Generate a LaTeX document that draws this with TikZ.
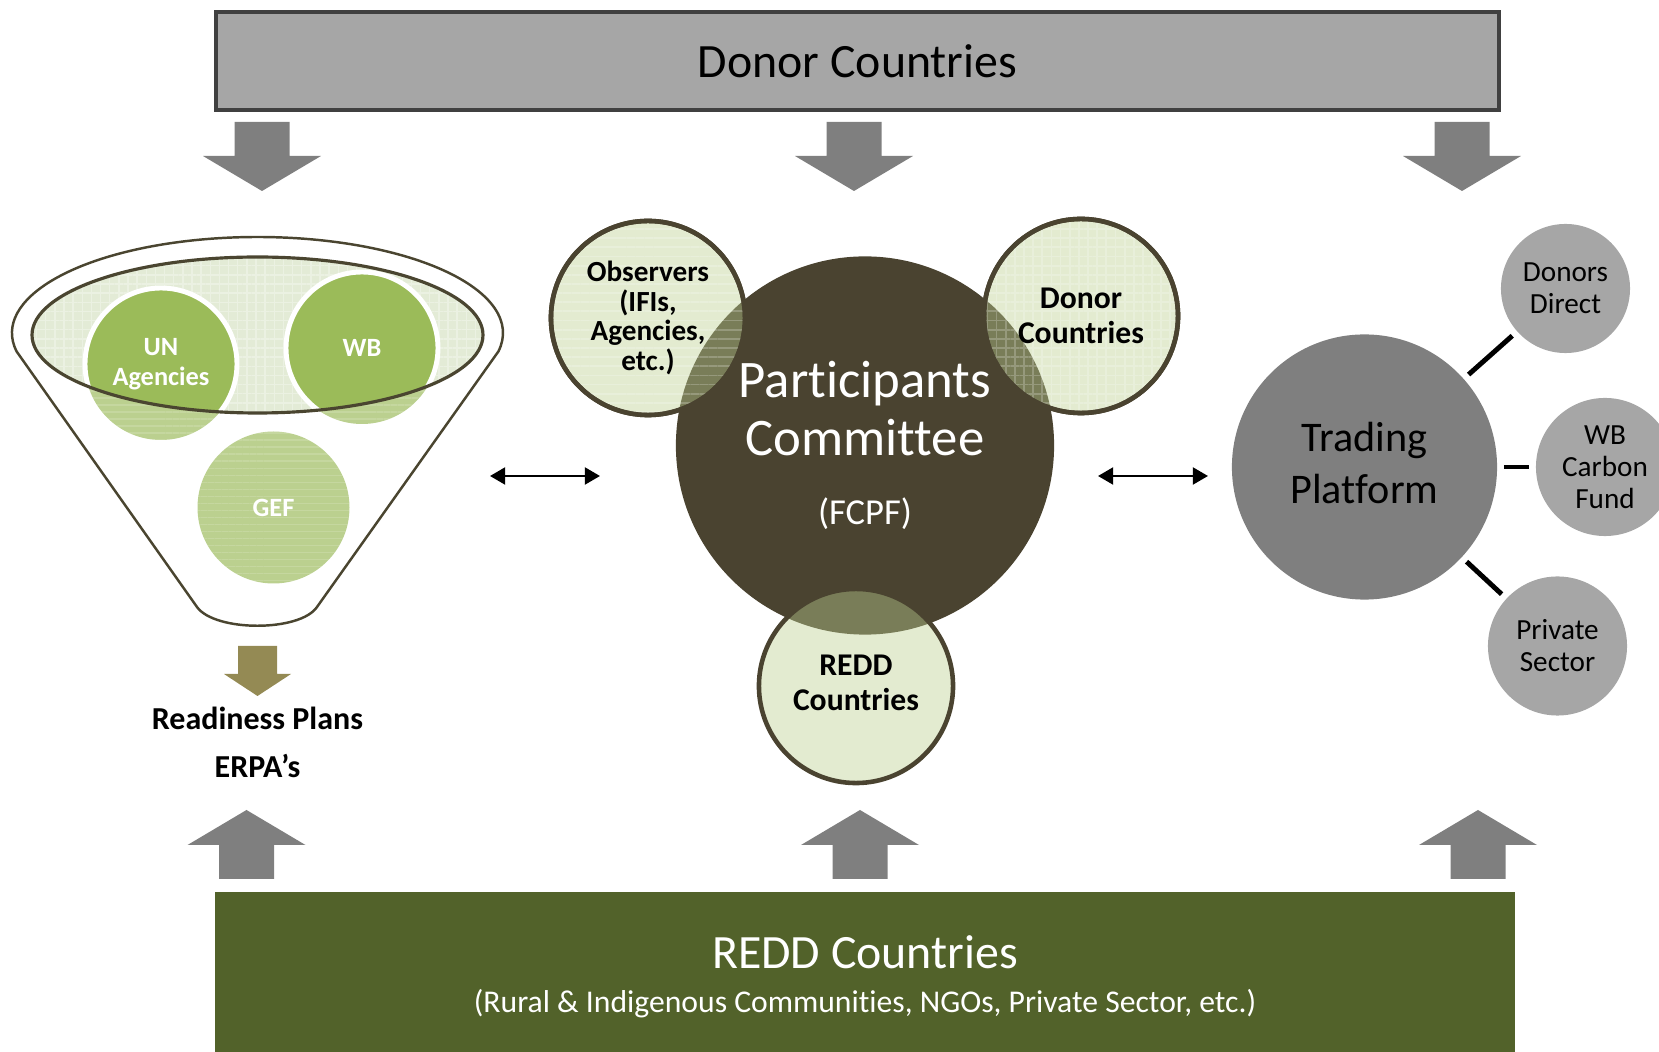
\documentclass[tikz,border=0pt]{standalone}
\usepackage{fontspec}
\setmainfont{Carlito}[Ligatures=NoCommon]
\usetikzlibrary{arrows.meta, patterns.meta, positioning}

\definecolor{donorgray}{HTML}{A6A6A6}
\definecolor{boxedge}{HTML}{404040}
\definecolor{arrowgray}{HTML}{7F7F7F}
\definecolor{reddgreen}{HTML}{52622A}
\definecolor{pcbrown}{HTML}{4A4330}
\definecolor{palegreen}{HTML}{BCCF90}
\definecolor{leafgreen}{HTML}{9BBB59}
\definecolor{softgreen}{HTML}{BBD08F}
\definecolor{mistgreen}{HTML}{E3EBD6}
\definecolor{funneledge}{HTML}{4A4530}
\definecolor{khaki}{HTML}{948A54}

\tikzset{
  bigarrow/.pic={\fill[arrowgray] (-27.5,0) -- (27.5,0) -- (27.5,34) -- (59,34) -- (0,69) -- (-59,34) -- (-27.5,34) -- cycle;},
  planarrow/.pic={\fill[khaki] (-19.5,0) -- (19.5,0) -- (19.5,28) -- (33.5,28) -- (0,50) -- (-33.5,28) -- (-19.5,28) -- cycle;}
}

\begin{document}
\begin{tikzpicture}[x=0.01cm, y=-0.01cm,
	donorbox/.style={draw=boxedge, line width=1.2pt, fill=donorgray, minimum width=12.83cm, minimum height=0.98cm, font=\fontsize{13.6}{16}\selectfont},
	reddbox/.style={fill=reddgreen, text=white, minimum width=13cm, minimum height=1.7cm, align=center, font=\fontsize{13.6}{15}\selectfont},
	pcnode/.style={circle, fill=pcbrown, minimum size=3.78cm, inner sep=0, text=white, align=center, font=\fontsize{15}{16.5}\selectfont},
	member/.style={circle, draw=pcbrown, line width=1.3pt, fill=palegreen, fill opacity=.42, text opacity=1, minimum size=1.94cm, inner sep=0, align=center, font=\bfseries\fontsize{9}{10}\selectfont},
	memberline/.style={postaction={pattern={#1}, pattern color=white, opacity=.22}, postaction={draw=pcbrown, line width=1.3pt}},
	tpnode/.style={circle, fill=arrowgray, minimum size=2.65cm, inner sep=0, align=center, text depth=2.2pt, font=\fontsize{12}{14.8}\selectfont},
	tpmember/.style={circle, fill=donorgray, minimum size=#1, inner sep=0, align=center, font=\fontsize{8.3}{9.1}\selectfont},
	tpline/.style={line width=1.4pt, shorten <=1.7pt, shorten >=1.7pt},
	bothway/.style={{Triangle[length=4.3pt,width=4.8pt]}-{Triangle[length=4.3pt,width=4.8pt]}, line width=.7pt},
	fundtext/.style={text=white, align=center, font=\bfseries\fontsize{7.5}{8.6}\selectfont},
	plantext/.style={align=center, font=\bfseries\fontsize{9.1}{13.7}\selectfont}]

	\useasboundingbox (0,0) rectangle (1659,1052);

	% donors on top, REDD countries below
	\node[donorbox] (donors) at (857.5,61) {Donor Countries};
	\node[reddbox] (reddbase) at (865,977) {REDD Countries\\[-2.5pt]{\fontsize{9}{11}\selectfont (Rural \& Indigenous Communities, NGOs, Private Sector, etc.)}};

	\foreach \x in {262, 854, 1462}
		\pic at (\x,122) {bigarrow};
	\foreach \x in {246.5, 860, 1478}
		\pic[rotate=180] at (\x,879) {bigarrow};

	% funnel
	\coordinate (unc) at (161,364);
	\coordinate (wbc) at (362,348);
	\coordinate (gefc) at (273.5,507.5);
	\draw[funneledge, line width=.7pt] (257.5,333) ++(169:245.5 and 96)
		arc[start angle=169, end angle=371, x radius=245.5, y radius=96]
		-- (317,607) .. controls (300,632) and (215,632) .. (197,607) -- cycle;
	\fill[mistgreen] (257.5,335) ellipse[x radius=225.5, y radius=78];
	\fill[pattern={Hatch[angle=0, distance=2.6pt, line width=.4pt]}, pattern color=white, opacity=.3] (257.5,335) ellipse[x radius=225.5, y radius=78];
	\foreach \c in {unc, wbc, gefc} {
		\fill[softgreen] (\c) circle[radius=76];
		\fill[pattern={Lines[distance=2pt, line width=.4pt]}, pattern color=white, opacity=.15] (\c) circle[radius=76];
	}
	\begin{scope}
		\clip (257.5,335) ellipse[x radius=225.5, y radius=78];
		\filldraw[fill=leafgreen, draw=white, line width=1.4pt] (unc) circle[radius=76] (wbc) circle[radius=76];
	\end{scope}
	\draw[funneledge, line width=.9pt] (257.5,335) ellipse[x radius=225.5, y radius=78];
	\node[fundtext] (un) at (unc) {UN\\Agencies};
	\node[fundtext] (wb) at (wbc) {WB};
	\node[fundtext] (gef) at (gefc) {GEF};

	\pic at (257.5,646) {planarrow};
	\node[plantext] (plans) at (257.5,742) {Readiness Plans\\ERPA’s};

	% participants committee
	\node[pcnode] (pc) at (865,445.5) {Participants\\Committee\\[3.3pt]{\fontsize{10.4}{12}\selectfont (FCPF)}};
	\node[member, memberline={Lines[distance=2.6pt, line width=.5pt]}, font=\bfseries\fontsize{8.3}{8.5}\selectfont] (obs) at (648,318) {Observers\\(IFIs,\\Agencies,\\etc.)};
	\node[member, memberline={Hatch[angle=0, distance=2.6pt, line width=.5pt]}] (dnr) at (1081,316) {Donor\\Countries};
	\node[member, text depth=1.7pt] (redd) at (856,686) {REDD\\Countries};

	% trading platform
	\node[tpnode] (tp) at (1364.5,467) {Trading\\Platform};
	\node[tpmember=1.29cm] (dd) at (1565.5,288.5) {Donors\\Direct};
	\node[tpmember=1.38cm] (wbcf) at (1605,467) {WB\\Carbon\\Fund};
	\node[tpmember=1.39cm] (ps) at (1557.5,646) {Private\\Sector};
	\path[tpline] (tp) edge (dd) edge (wbcf) edge (ps);

	\coordinate (l1) at (490,476);
	\coordinate (l2) at (600,476);
	\coordinate (r1) at (1098,476);
	\coordinate (r2) at (1208,476);
	\draw[bothway] (l1) -- (l2);
	\draw[bothway] (r1) -- (r2);

\end{tikzpicture}
\end{document}
